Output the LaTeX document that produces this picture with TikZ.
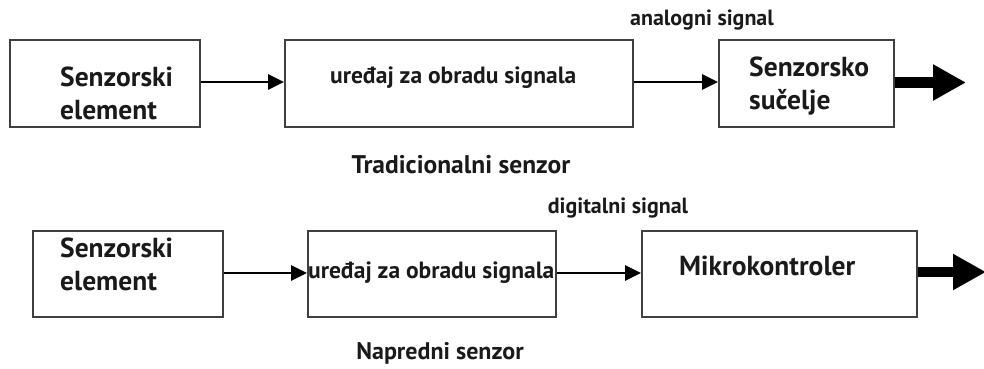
\documentclass[tikz,border=0pt]{standalone}
\usepackage{fontspec}
\setmainfont{PT Sans}
\usepackage{tikz}
\usetikzlibrary{arrows.meta}
\definecolor{edge}{HTML}{404040}
\definecolor{ink}{HTML}{1A1A1A}
\tikzset{
  blk/.style={draw=edge, line width=2pt, inner sep=0pt},
  txt/.style={text=ink, font=\bfseries\fontsize{27.5}{33}\selectfont, align=left, anchor=west, inner sep=0pt},
  lbl/.style={text=ink, font=\bfseries\fontsize{22}{22}\selectfont, inner sep=0pt},
  arr/.style={line width=2.8pt, -{Triangle[length=16pt,width=15pt]}},
  fat/.style={line width=10.5pt, -{Triangle[length=33pt,width=34pt]}},
}
\begin{document}
\begin{tikzpicture}[x=1pt, y=-1pt]
  \useasboundingbox (0,0) rectangle (984,368);

  % traditional sensor
  \node[blk, minimum width=190pt, minimum height=87pt] (se1) at (105,83.5) {};
  \node[blk, minimum width=348pt, minimum height=87pt] (ob1) at (459,83.5) {};
  \node[blk, minimum width=175pt, minimum height=87pt] (su1) at (806.5,83.5) {};
  \coordinate (out1) at (966,82.5);

  \node[txt] (tse1) at (60,93.5) {Senzorski\\element};
  \node[txt, font=\bfseries\fontsize{23.5}{22}\selectfont] (tob1) at (330,78) {uređaj za obradu signala};
  \node[txt] (tsu1) at (749,86.5) {Senzorsko\\sučelje};
  \node[lbl] (an) at (702,20) {analogni signal};
  \node[lbl, font=\bfseries\fontsize{25.5}{22}\selectfont] (trad) at (461,165) {Tradicionalni senzor};

  \draw[arr] (se1.east |- 0,82) -- (ob1.west |- 0,82);
  \draw[arr] (ob1.east |- 0,82) -- (su1.west |- 0,82);
  \draw[fat] (su1.east |- out1) -- (out1);

  % advanced sensor
  \node[blk, minimum width=190pt, minimum height=86pt] (se2) at (128,274) {};
  \node[blk, minimum width=248pt, minimum height=86pt] (ob2) at (432,274) {};
  \node[blk, minimum width=275pt, minimum height=86pt] (mk) at (779.5,274) {};
  \coordinate (out2) at (986,272);

  \node[txt] (tse2) at (60,264) {Senzorski\\element};
  \node[txt, font=\bfseries\fontsize{23.5}{22}\selectfont] (tob2) at (308,273) {uređaj za obradu signala};
  \node[txt] (tmk) at (679,266) {Mikrokontroler};
  \node[lbl] (dig) at (618,208) {digitalni signal};
  \node[lbl, font=\bfseries\fontsize{24}{22}\selectfont] (napr) at (440,353) {Napredni senzor};

  \draw[arr] (se2.east |- 0,273) -- (ob2.west |- 0,273);
  \draw[arr] (ob2.east |- 0,273) -- (mk.west |- 0,273);
  \draw[fat] (mk.east |- out2) -- (out2);
\end{tikzpicture}
\end{document}
